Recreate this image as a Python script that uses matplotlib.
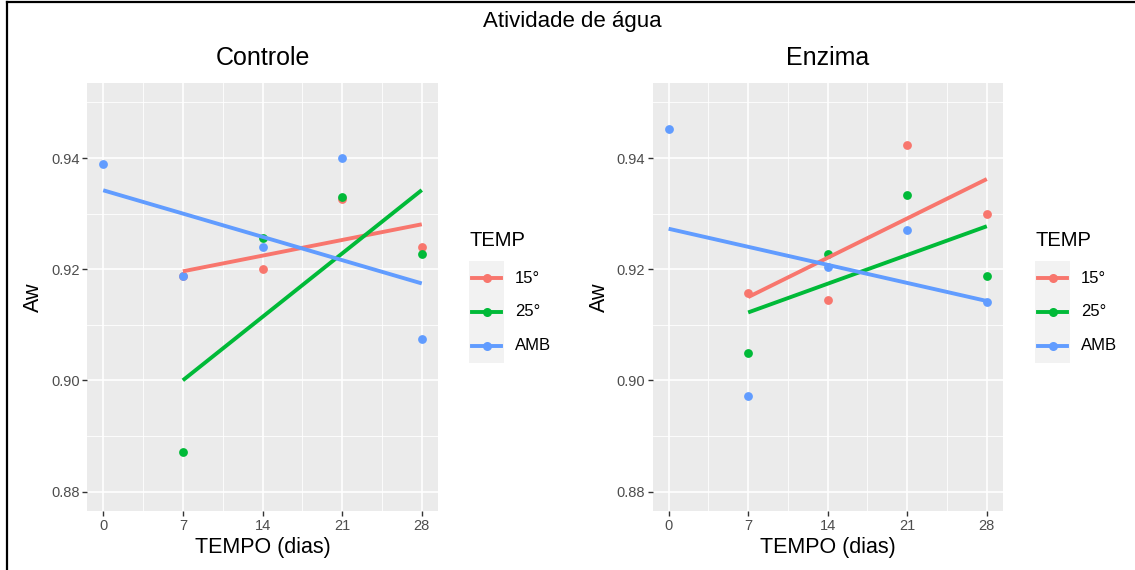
import numpy as np
import matplotlib
matplotlib.use("Agg")
import matplotlib.pyplot as plt
from matplotlib.lines import Line2D
from matplotlib.patches import Rectangle

plt.rcParams['font.family'] = ['Liberation Sans', 'DejaVu Sans']

# ---------------- data ----------------
dias = [0, 7, 14, 21, 28]
series = ["15°", "25°", "AMB"]
colors = ["#F8766D", "#00BA38", "#619CFF"]

controle_15 = [np.nan, 0.9188, 0.9200, 0.9326, 0.9240]
controle_25 = [np.nan, 0.8871, 0.9257, 0.9330, 0.9227]
controle_amb = [0.9390, 0.9187, 0.9240, 0.9400, 0.9074]

enzima_15 = [np.nan, 0.9157, 0.9144, 0.9423, 0.9300]
enzima_25 = [np.nan, 0.9050, 0.9228, 0.9334, 0.9187]
enzima_amb = [0.9453, 0.8971, 0.9204, 0.9270, 0.9141]

panels = ["Controle", "Enzima"]
panel_data = [[controle_15, controle_25, controle_amb],
              [enzima_15, enzima_25, enzima_amb]]

yticks = [0.88, 0.90, 0.92, 0.94]
ytick_labels = ["0.88", "0.90", "0.92", "0.94"]
xticks = dias
title = "Atividade de água"
xlabel = "TEMPO (dias)"
ylabel = "Aw"
legend_title = "TEMP"

# ---------------- figure ----------------
W, H = 1135, 570
fig = plt.figure(figsize=(W / 100, H / 100), dpi=100)

def fx(px):
    return px / W

def fy(py):
    return 1 - py / H

panel_px = [(87.3, 437.7), (652.7, 1002.7)]
top_px, bot_px = 83, 511
legend_x = [469, 1035]

for k, (name, data) in enumerate(zip(panels, panel_data)):
    l, r = panel_px[k]
    ax = fig.add_axes([fx(l), fy(bot_px), (r - l) / W, (bot_px - top_px) / H])
    ax.set_facecolor("#EBEBEB")
    for s in ax.spines.values():
        s.set_visible(False)
    ax.set_xticks(xticks)
    ax.set_xticklabels([str(d) for d in xticks])
    ax.set_yticks(yticks)
    ax.set_yticklabels(ytick_labels)
    ax.set_xticks([3.5, 10.5, 17.5, 24.5], minor=True)
    ax.set_yticks([0.87, 0.89, 0.91, 0.93, 0.95], minor=True)
    ax.grid(which="major", color="white", lw=1.2)
    ax.grid(which="minor", color="white", lw=0.6)
    ax.set_axisbelow(True)
    ax.tick_params(which="major", length=3.5, width=1.0, color="#333333",
                   labelsize=10.5, labelcolor="#4D4D4D", pad=2)
    ax.tick_params(which="minor", length=0)

    x = np.array(dias, dtype=float)
    for i, (vals, c) in enumerate(zip(data, colors)):
        y = np.array(vals, dtype=float)
        m = ~np.isnan(y)
        ax.scatter(x[m], y[m], s=40, color=c, zorder=3 + i * 0.1, linewidths=0)
    for i, (vals, c) in enumerate(zip(data, colors)):
        y = np.array(vals, dtype=float)
        m = ~np.isnan(y)
        b1, b0 = np.polyfit(x[m], y[m], 1)
        xs = np.array([x[m].min(), x[m].max()])
        ax.plot(xs, b0 + b1 * xs, color=c, lw=2.8, zorder=4, solid_capstyle="butt")

    ax.set_xlim(-1.4, 29.4)
    ax.set_ylim(0.8765, 0.9535)

    ax.set_title(name, fontsize=18, pad=13, color="black")
    ax.set_xlabel(xlabel, fontsize=15.5, labelpad=3)
    ax.set_ylabel(ylabel, fontsize=15.5, labelpad=5)

    # legend
    lx = legend_x[k]
    fig.text(fx(lx + 1), fy(241), legend_title, fontsize=14.5, va="center", ha="left")
    fig.patches.append(Rectangle((fx(lx), fy(362.5)), 35 / W, 102 / H,
                                 transform=fig.transFigure, facecolor="#F2F2F2",
                                 edgecolor="none", figure=fig))
    key_y = [278.3, 311.5, 345.5]
    for s_name, c, ky in zip(series, colors, key_y):
        fig.add_artist(Line2D([fx(lx + 3), fx(lx + 32)], [fy(ky), fy(ky)],
                              color=c, lw=2.8, transform=fig.transFigure))
        fig.add_artist(Line2D([fx(lx + 17.5)], [fy(ky)], marker="o", ms=6.5,
                              color=c, markeredgewidth=0, transform=fig.transFigure))
        fig.text(fx(lx + 46), fy(ky), s_name, fontsize=12, va="center", ha="left")

fig.text(fx(572.5), fy(22), title, fontsize=16, ha="center", va="center")

# frame lines (top and left)
fig.add_artist(Line2D([fx(7), 1], [fy(2), fy(2)], color="black", lw=1.6,
                      transform=fig.transFigure))
fig.add_artist(Line2D([fx(7), fx(7)], [0, fy(2)], color="black", lw=1.6,
                      transform=fig.transFigure))

fig.savefig("out.png", dpi=100)
